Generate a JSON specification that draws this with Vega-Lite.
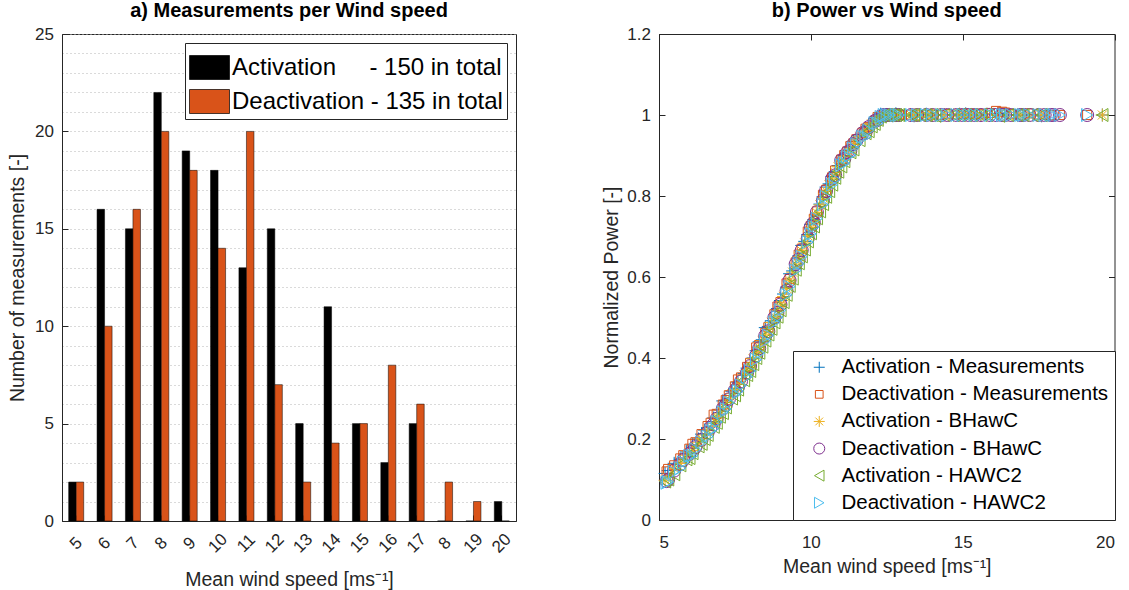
{
  "$schema": "https://vega.github.io/schema/vega-lite/v6.json",
  "padding": {"left": 7, "top": 0, "right": 0, "bottom": 0},
  "bounds": "flush",
  "spacing": 143,
  "config": {
    "font": "Liberation Sans",
    "view": {"stroke": "#262626", "strokeWidth": 1},
    "axis": {
      "domainColor": "#262626", "tickColor": "#262626", "labelColor": "#262626", "titleColor": "#262626",
      "labelFontSize": 17, "titleFontSize": 19.5, "titleFontWeight": "normal",
      "grid": false, "tickSize": -6, "labelPadding": 14.5
    },
    "title": {"fontSize": 20, "fontWeight": "bold", "color": "#000000", "offset": 4},
    "legend": {"labelColor": "#000000", "strokeColor": "#262626", "fillColor": "#ffffff", "labelLimit": 500}
  },
  "resolve": {
    "scale": {"color": "independent", "shape": "independent"},
    "legend": {"color": "independent", "shape": "independent"}
  },
  "hconcat": [
    {
      "width": 454, "height": 487,
      "title": {"text": "a) Measurements per Wind speed"},
      "data": {"values": [
        {"ws": 5, "type": "Activation", "n": 2}, {"ws": 6, "type": "Activation", "n": 16},
        {"ws": 7, "type": "Activation", "n": 15}, {"ws": 8, "type": "Activation", "n": 22},
        {"ws": 9, "type": "Activation", "n": 19}, {"ws": 10, "type": "Activation", "n": 18},
        {"ws": 11, "type": "Activation", "n": 13}, {"ws": 12, "type": "Activation", "n": 15},
        {"ws": 13, "type": "Activation", "n": 5}, {"ws": 14, "type": "Activation", "n": 11},
        {"ws": 15, "type": "Activation", "n": 5}, {"ws": 16, "type": "Activation", "n": 3},
        {"ws": 17, "type": "Activation", "n": 5}, {"ws": 18, "type": "Activation", "n": 0},
        {"ws": 19, "type": "Activation", "n": 0}, {"ws": 20, "type": "Activation", "n": 1},
        {"ws": 5, "type": "Deactivation", "n": 2}, {"ws": 6, "type": "Deactivation", "n": 10},
        {"ws": 7, "type": "Deactivation", "n": 16}, {"ws": 8, "type": "Deactivation", "n": 20},
        {"ws": 9, "type": "Deactivation", "n": 18}, {"ws": 10, "type": "Deactivation", "n": 14},
        {"ws": 11, "type": "Deactivation", "n": 20}, {"ws": 12, "type": "Deactivation", "n": 7},
        {"ws": 13, "type": "Deactivation", "n": 2}, {"ws": 14, "type": "Deactivation", "n": 4},
        {"ws": 15, "type": "Deactivation", "n": 5}, {"ws": 16, "type": "Deactivation", "n": 8},
        {"ws": 17, "type": "Deactivation", "n": 6}, {"ws": 18, "type": "Deactivation", "n": 2},
        {"ws": 19, "type": "Deactivation", "n": 1}, {"ws": 20, "type": "Deactivation", "n": 0}
      ]},
      "mark": {"type": "bar", "stroke": "#000000", "strokeWidth": 0.5},
      "encoding": {
        "x": {
          "field": "ws", "type": "ordinal",
          "scale": {"paddingInner": 0.47, "paddingOuter": 0.235},
          "axis": {
            "title": "Mean wind speed [ms⁻¹]",
            "labelAngle": -45, "labelAlign": "center", "labelBaseline": "middle",
            "labelPadding": 28,
            "labelExpr": "datum.value == 18 ? '8' : datum.label",
            "titlePadding": 15
          }
        },
        "xOffset": {"field": "type", "scale": {"paddingInner": 0, "paddingOuter": 0}},
        "y": {
          "field": "n", "type": "quantitative",
          "scale": {"domain": [0, 25], "nice": false},
          "axis": {
            "title": "Number of measurements [-]",
            "values": [0,1,2,3,4,5,6,7,8,9,10,11,12,13,14,15,16,17,18,19,20,21,22,23,24,25],
            "grid": true, "gridDash": [1, 3], "gridColor": "#b5b5b5",
            "labelExpr": "datum.value % 5 == 0 ? datum.label : ''",
            "tickOpacity": {"condition": {"test": "datum.value % 5 == 0", "value": 1}, "value": 0},
            "titlePadding": 7
          }
        },
        "color": {
          "field": "type", "type": "nominal",
          "scale": {"domain": ["Activation", "Deactivation"], "range": ["#000000", "#D95319"]},
          "legend": {
            "title": null, "orient": "top-right", "offset": 9,
            "symbolType": "M-1,-0.6H1V0.6H-1Z", "symbolSize": 1600,
            "symbolStrokeColor": "#000000", "symbolStrokeWidth": 0.7,
            "labelFontSize": 24, "labelOffset": 2, "rowPadding": 0, "padding": 4,
            "labelExpr": "datum.value == 'Activation' ? 'Activation\u00a0\u00a0\u00a0\u00a0\u00a0- 150 in total' : 'Deactivation - 135 in total'"
          }
        }
      }
    },
    {
      "width": 455.5, "height": 486,
      "title": {"text": "b) Power vs Wind speed"},
      "data": {"values": [
        {"s":"AM","x":5.2,"y":0.115},{"s":"AM","x":5.3,"y":0.122},{"s":"AM","x":5.5,"y":0.14},{"s":"AM","x":5.7,"y":0.15},{"s":"AM","x":5.9,"y":0.168},
        {"s":"AM","x":6.0,"y":0.157},{"s":"AM","x":6.1,"y":0.185},{"s":"AM","x":6.3,"y":0.2},{"s":"AM","x":6.4,"y":0.212},{"s":"AM","x":6.5,"y":0.222},{"s":"AM","x":6.6,"y":0.228},
        {"s":"AM","x":6.8,"y":0.252},{"s":"AM","x":6.9,"y":0.242},{"s":"AM","x":7.0,"y":0.272},{"s":"AM","x":7.1,"y":0.294},{"s":"AM","x":7.2,"y":0.295},{"s":"AM","x":7.4,"y":0.318},
        {"s":"AM","x":7.5,"y":0.325},{"s":"AM","x":7.6,"y":0.34},{"s":"AM","x":7.8,"y":0.362},{"s":"AM","x":7.9,"y":0.375},{"s":"AM","x":8.0,"y":0.368},{"s":"AM","x":8.1,"y":0.4},
        {"s":"AM","x":8.2,"y":0.418},{"s":"AM","x":8.3,"y":0.44},{"s":"AM","x":8.4,"y":0.445},{"s":"AM","x":8.5,"y":0.475},{"s":"AM","x":8.6,"y":0.478},{"s":"AM","x":8.7,"y":0.492},
        {"s":"AM","x":8.8,"y":0.492},{"s":"AM","x":8.9,"y":0.522},{"s":"AM","x":9.0,"y":0.542},{"s":"AM","x":9.1,"y":0.558},{"s":"AM","x":9.2,"y":0.575},{"s":"AM","x":9.3,"y":0.608},{"s":"AM","x":9.4,"y":0.615},
        {"s":"AM","x":9.5,"y":0.62},{"s":"AM","x":9.6,"y":0.652},{"s":"AM","x":9.7,"y":0.678},{"s":"AM","x":9.8,"y":0.688},{"s":"AM","x":9.9,"y":0.705},{"s":"AM","x":10.0,"y":0.73},{"s":"AM","x":10.1,"y":0.742},
        {"s":"AM","x":10.2,"y":0.752},{"s":"AM","x":10.3,"y":0.78},{"s":"AM","x":10.4,"y":0.798},{"s":"AM","x":10.5,"y":0.822},{"s":"AM","x":10.6,"y":0.83},{"s":"AM","x":10.7,"y":0.848},{"s":"AM","x":10.8,"y":0.86},
        {"s":"AM","x":10.9,"y":0.875},{"s":"AM","x":11.0,"y":0.879},{"s":"AM","x":11.1,"y":0.9},{"s":"AM","x":11.3,"y":0.92},{"s":"AM","x":11.4,"y":0.935},{"s":"AM","x":11.6,"y":0.948},
        {"s":"AM","x":11.8,"y":0.963},{"s":"AM","x":11.9,"y":0.974},{"s":"AM","x":12.0,"y":0.978},{"s":"AM","x":12.1,"y":0.991},{"s":"AM","x":12.2,"y":0.992},{"s":"AM","x":12.3,"y":1.002},{"s":"AM","x":12.4,"y":0.999},
        {"s":"AM","x":12.5,"y":1.001},{"s":"AM","x":12.6,"y":1.0},{"s":"AM","x":12.7,"y":0.998},{"s":"AM","x":12.8,"y":1.003},{"s":"AM","x":12.9,"y":1.001},{"s":"AM","x":13.3,"y":1.0},{"s":"AM","x":13.4,"y":0.998},
        {"s":"AM","x":13.6,"y":1.001},{"s":"AM","x":13.8,"y":1.002},{"s":"AM","x":14.0,"y":0.999},{"s":"AM","x":14.1,"y":0.999},{"s":"AM","x":14.4,"y":1.001},{"s":"AM","x":14.7,"y":1.0},{"s":"AM","x":14.9,"y":1.002},
        {"s":"AM","x":15.1,"y":1.003},{"s":"AM","x":15.3,"y":1.0},{"s":"AM","x":15.6,"y":0.999},{"s":"AM","x":15.8,"y":1.002},{"s":"AM","x":16.2,"y":1.004},{"s":"AM","x":16.5,"y":1.001},{"s":"AM","x":16.8,"y":1.0},
        {"s":"AM","x":17.0,"y":0.999},{"s":"AM","x":17.3,"y":1.001},{"s":"AM","x":17.6,"y":0.998},{"s":"AM","x":19.6,"y":1.0},

        {"s":"DM","x":5.25,"y":0.12},{"s":"DM","x":5.3,"y":0.126},{"s":"DM","x":5.5,"y":0.135},{"s":"DM","x":5.7,"y":0.152},{"s":"DM","x":5.8,"y":0.16},{"s":"DM","x":6.0,"y":0.176},
        {"s":"DM","x":6.1,"y":0.188},{"s":"DM","x":6.2,"y":0.192},{"s":"DM","x":6.4,"y":0.212},{"s":"DM","x":6.6,"y":0.232},{"s":"DM","x":6.7,"y":0.24},{"s":"DM","x":6.8,"y":0.26},{"s":"DM","x":6.9,"y":0.262},
        {"s":"DM","x":7.1,"y":0.285},{"s":"DM","x":7.2,"y":0.296},{"s":"DM","x":7.3,"y":0.308},{"s":"DM","x":7.5,"y":0.33},{"s":"DM","x":7.6,"y":0.347},{"s":"DM","x":7.7,"y":0.352},{"s":"DM","x":7.9,"y":0.378},
        {"s":"DM","x":8.0,"y":0.388},{"s":"DM","x":8.2,"y":0.426},{"s":"DM","x":8.3,"y":0.432},{"s":"DM","x":8.5,"y":0.462},{"s":"DM","x":8.6,"y":0.476},{"s":"DM","x":8.8,"y":0.508},{"s":"DM","x":8.9,"y":0.527},
        {"s":"DM","x":9.0,"y":0.538},{"s":"DM","x":9.2,"y":0.584},{"s":"DM","x":9.3,"y":0.595},{"s":"DM","x":9.5,"y":0.636},{"s":"DM","x":9.6,"y":0.655},{"s":"DM","x":9.7,"y":0.67},{"s":"DM","x":9.9,"y":0.712},
        {"s":"DM","x":10.0,"y":0.726},{"s":"DM","x":10.1,"y":0.744},{"s":"DM","x":10.2,"y":0.762},{"s":"DM","x":10.4,"y":0.803},{"s":"DM","x":10.5,"y":0.815},{"s":"DM","x":10.7,"y":0.846},{"s":"DM","x":10.8,"y":0.863},
        {"s":"DM","x":11.0,"y":0.89},{"s":"DM","x":11.1,"y":0.901},{"s":"DM","x":11.2,"y":0.91},{"s":"DM","x":11.3,"y":0.923},{"s":"DM","x":11.4,"y":0.93},{"s":"DM","x":11.5,"y":0.94},{"s":"DM","x":11.7,"y":0.956},
        {"s":"DM","x":11.8,"y":0.966},{"s":"DM","x":11.9,"y":0.97},{"s":"DM","x":12.1,"y":0.985},{"s":"DM","x":12.2,"y":0.995},{"s":"DM","x":12.3,"y":0.997},{"s":"DM","x":12.4,"y":1.001},{"s":"DM","x":12.5,"y":1.0},
        {"s":"DM","x":12.6,"y":0.999},{"s":"DM","x":12.8,"y":1.002},{"s":"DM","x":12.9,"y":1.0},{"s":"DM","x":13.3,"y":1.001},{"s":"DM","x":13.5,"y":0.999},{"s":"DM","x":13.8,"y":1.0},{"s":"DM","x":14.0,"y":1.001},
        {"s":"DM","x":14.3,"y":1.0},{"s":"DM","x":14.5,"y":1.002},{"s":"DM","x":14.8,"y":1.001},{"s":"DM","x":15.0,"y":1.003},{"s":"DM","x":15.2,"y":1.004},{"s":"DM","x":15.4,"y":1.002},{"s":"DM","x":15.6,"y":1.003},
        {"s":"DM","x":15.9,"y":1.005},{"s":"DM","x":16.1,"y":1.01},{"s":"DM","x":16.3,"y":1.008},{"s":"DM","x":16.4,"y":1.006},{"s":"DM","x":16.6,"y":1.002},{"s":"DM","x":16.9,"y":1.001},{"s":"DM","x":17.0,"y":1.0},
        {"s":"DM","x":17.2,"y":1.004},{"s":"DM","x":17.5,"y":1.001},{"s":"DM","x":17.7,"y":1.0},{"s":"DM","x":17.9,"y":0.999},{"s":"DM","x":18.0,"y":1.0},{"s":"DM","x":18.2,"y":1.0},{"s":"DM","x":19.1,"y":1.0},

        {"s":"AB","x":5.2,"y":0.098},{"s":"AB","x":5.3,"y":0.105},{"s":"AB","x":5.5,"y":0.127},{"s":"AB","x":5.7,"y":0.14},{"s":"AB","x":5.9,"y":0.16},
        {"s":"AB","x":6.0,"y":0.166},{"s":"AB","x":6.1,"y":0.172},{"s":"AB","x":6.3,"y":0.192},{"s":"AB","x":6.4,"y":0.201},{"s":"AB","x":6.5,"y":0.21},{"s":"AB","x":6.6,"y":0.222},
        {"s":"AB","x":6.8,"y":0.238},{"s":"AB","x":6.9,"y":0.254},{"s":"AB","x":7.0,"y":0.262},{"s":"AB","x":7.1,"y":0.278},{"s":"AB","x":7.2,"y":0.29},{"s":"AB","x":7.4,"y":0.312},
        {"s":"AB","x":7.5,"y":0.322},{"s":"AB","x":7.6,"y":0.335},{"s":"AB","x":7.8,"y":0.358},{"s":"AB","x":7.9,"y":0.37},{"s":"AB","x":8.0,"y":0.382},{"s":"AB","x":8.1,"y":0.398},
        {"s":"AB","x":8.2,"y":0.412},{"s":"AB","x":8.3,"y":0.427},{"s":"AB","x":8.4,"y":0.442},{"s":"AB","x":8.5,"y":0.457},{"s":"AB","x":8.6,"y":0.472},{"s":"AB","x":8.7,"y":0.488},
        {"s":"AB","x":8.8,"y":0.502},{"s":"AB","x":8.9,"y":0.518},{"s":"AB","x":9.0,"y":0.533},{"s":"AB","x":9.1,"y":0.552},{"s":"AB","x":9.2,"y":0.572},{"s":"AB","x":9.3,"y":0.592},{"s":"AB","x":9.4,"y":0.612},
        {"s":"AB","x":9.5,"y":0.632},{"s":"AB","x":9.6,"y":0.65},{"s":"AB","x":9.7,"y":0.665},{"s":"AB","x":9.8,"y":0.684},{"s":"AB","x":9.9,"y":0.702},{"s":"AB","x":10.0,"y":0.722},{"s":"AB","x":10.1,"y":0.74},
        {"s":"AB","x":10.2,"y":0.759},{"s":"AB","x":10.3,"y":0.778},{"s":"AB","x":10.4,"y":0.795},{"s":"AB","x":10.5,"y":0.812},{"s":"AB","x":10.6,"y":0.828},{"s":"AB","x":10.7,"y":0.842},{"s":"AB","x":10.8,"y":0.858},
        {"s":"AB","x":10.9,"y":0.872},{"s":"AB","x":11.0,"y":0.887},{"s":"AB","x":11.1,"y":0.898},{"s":"AB","x":11.3,"y":0.918},{"s":"AB","x":11.4,"y":0.927},{"s":"AB","x":11.6,"y":0.946},
        {"s":"AB","x":11.8,"y":0.962},{"s":"AB","x":11.9,"y":0.97},{"s":"AB","x":12.0,"y":0.978},{"s":"AB","x":12.1,"y":0.985},{"s":"AB","x":12.2,"y":0.992},{"s":"AB","x":12.3,"y":0.998},{"s":"AB","x":12.4,"y":1.0},
        {"s":"AB","x":12.5,"y":1.0},{"s":"AB","x":12.6,"y":1.0},{"s":"AB","x":12.7,"y":1.0},{"s":"AB","x":12.8,"y":1.0},{"s":"AB","x":12.9,"y":1.0},{"s":"AB","x":13.3,"y":1.0},{"s":"AB","x":13.4,"y":1.0},
        {"s":"AB","x":13.6,"y":1.0},{"s":"AB","x":13.8,"y":1.0},{"s":"AB","x":14.0,"y":1.0},{"s":"AB","x":14.1,"y":1.0},{"s":"AB","x":14.4,"y":1.0},{"s":"AB","x":14.7,"y":1.0},{"s":"AB","x":14.9,"y":1.0},
        {"s":"AB","x":15.1,"y":1.0},{"s":"AB","x":15.3,"y":1.0},{"s":"AB","x":15.6,"y":1.0},{"s":"AB","x":15.8,"y":1.0},{"s":"AB","x":16.2,"y":1.0},{"s":"AB","x":16.5,"y":1.0},{"s":"AB","x":16.8,"y":1.0},
        {"s":"AB","x":17.0,"y":1.0},{"s":"AB","x":17.3,"y":1.0},{"s":"AB","x":17.6,"y":1.0},{"s":"AB","x":19.6,"y":1.0},

        {"s":"DB","x":5.25,"y":0.096},{"s":"DB","x":5.3,"y":0.1},{"s":"DB","x":5.5,"y":0.122},{"s":"DB","x":5.7,"y":0.138},{"s":"DB","x":5.8,"y":0.148},{"s":"DB","x":6.0,"y":0.163},
        {"s":"DB","x":6.1,"y":0.169},{"s":"DB","x":6.2,"y":0.18},{"s":"DB","x":6.4,"y":0.198},{"s":"DB","x":6.6,"y":0.216},{"s":"DB","x":6.7,"y":0.228},{"s":"DB","x":6.8,"y":0.236},{"s":"DB","x":6.9,"y":0.25},
        {"s":"DB","x":7.1,"y":0.275},{"s":"DB","x":7.2,"y":0.284},{"s":"DB","x":7.3,"y":0.298},{"s":"DB","x":7.5,"y":0.32},{"s":"DB","x":7.6,"y":0.328},{"s":"DB","x":7.7,"y":0.342},{"s":"DB","x":7.9,"y":0.364},
        {"s":"DB","x":8.0,"y":0.38},{"s":"DB","x":8.2,"y":0.406},{"s":"DB","x":8.3,"y":0.424},{"s":"DB","x":8.5,"y":0.455},{"s":"DB","x":8.6,"y":0.466},{"s":"DB","x":8.8,"y":0.5},{"s":"DB","x":8.9,"y":0.511},
        {"s":"DB","x":9.0,"y":0.532},{"s":"DB","x":9.2,"y":0.566},{"s":"DB","x":9.3,"y":0.592},{"s":"DB","x":9.5,"y":0.632},{"s":"DB","x":9.6,"y":0.643},{"s":"DB","x":9.7,"y":0.666},{"s":"DB","x":9.9,"y":0.696},
        {"s":"DB","x":10.0,"y":0.724},{"s":"DB","x":10.1,"y":0.734},{"s":"DB","x":10.2,"y":0.76},{"s":"DB","x":10.4,"y":0.789},{"s":"DB","x":10.5,"y":0.812},{"s":"DB","x":10.7,"y":0.843},{"s":"DB","x":10.8,"y":0.851},
        {"s":"DB","x":11.0,"y":0.888},{"s":"DB","x":11.1,"y":0.891},{"s":"DB","x":11.2,"y":0.908},{"s":"DB","x":11.3,"y":0.911},{"s":"DB","x":11.4,"y":0.928},{"s":"DB","x":11.5,"y":0.937},{"s":"DB","x":11.7,"y":0.955},
        {"s":"DB","x":11.8,"y":0.956},{"s":"DB","x":11.9,"y":0.97},{"s":"DB","x":12.1,"y":0.985},{"s":"DB","x":12.2,"y":0.988},{"s":"DB","x":12.3,"y":0.997},{"s":"DB","x":12.4,"y":1.0},{"s":"DB","x":12.5,"y":1.0},
        {"s":"DB","x":12.6,"y":1.0},{"s":"DB","x":12.8,"y":1.0},{"s":"DB","x":12.9,"y":1.0},{"s":"DB","x":13.3,"y":1.0},{"s":"DB","x":13.5,"y":1.0},{"s":"DB","x":13.8,"y":1.0},{"s":"DB","x":14.0,"y":1.0},
        {"s":"DB","x":14.3,"y":1.0},{"s":"DB","x":14.5,"y":1.0},{"s":"DB","x":14.8,"y":1.0},{"s":"DB","x":15.0,"y":1.0},{"s":"DB","x":15.2,"y":1.0},{"s":"DB","x":15.4,"y":1.0},{"s":"DB","x":15.6,"y":1.0},
        {"s":"DB","x":15.9,"y":1.0},{"s":"DB","x":16.1,"y":1.0},{"s":"DB","x":16.3,"y":1.0},{"s":"DB","x":16.4,"y":1.0},{"s":"DB","x":16.6,"y":1.0},{"s":"DB","x":16.9,"y":1.0},{"s":"DB","x":17.0,"y":1.0},
        {"s":"DB","x":17.2,"y":1.0},{"s":"DB","x":17.5,"y":1.0},{"s":"DB","x":17.7,"y":1.0},{"s":"DB","x":17.9,"y":1.0},{"s":"DB","x":18.0,"y":1.0},{"s":"DB","x":18.2,"y":1.0},{"s":"DB","x":19.1,"y":1.0},

        {"s":"AH","x":5.2,"y":0.095},{"s":"AH","x":5.3,"y":0.1},{"s":"AH","x":5.5,"y":0.113},{"s":"AH","x":5.7,"y":0.135},{"s":"AH","x":5.9,"y":0.15},
        {"s":"AH","x":6.0,"y":0.153},{"s":"AH","x":6.1,"y":0.165},{"s":"AH","x":6.3,"y":0.182},{"s":"AH","x":6.4,"y":0.188},{"s":"AH","x":6.5,"y":0.2},{"s":"AH","x":6.6,"y":0.21},
        {"s":"AH","x":6.8,"y":0.23},{"s":"AH","x":6.9,"y":0.24},{"s":"AH","x":7.0,"y":0.255},{"s":"AH","x":7.1,"y":0.264},{"s":"AH","x":7.2,"y":0.278},{"s":"AH","x":7.4,"y":0.3},
        {"s":"AH","x":7.5,"y":0.308},{"s":"AH","x":7.6,"y":0.322},{"s":"AH","x":7.8,"y":0.345},{"s":"AH","x":7.9,"y":0.358},{"s":"AH","x":8.0,"y":0.368},{"s":"AH","x":8.1,"y":0.385},
        {"s":"AH","x":8.2,"y":0.4},{"s":"AH","x":8.3,"y":0.413},{"s":"AH","x":8.4,"y":0.428},{"s":"AH","x":8.5,"y":0.443},{"s":"AH","x":8.6,"y":0.458},{"s":"AH","x":8.7,"y":0.472},
        {"s":"AH","x":8.8,"y":0.488},{"s":"AH","x":8.9,"y":0.502},{"s":"AH","x":9.0,"y":0.518},{"s":"AH","x":9.1,"y":0.538},{"s":"AH","x":9.2,"y":0.556},{"s":"AH","x":9.3,"y":0.578},{"s":"AH","x":9.4,"y":0.596},
        {"s":"AH","x":9.5,"y":0.618},{"s":"AH","x":9.6,"y":0.634},{"s":"AH","x":9.7,"y":0.651},{"s":"AH","x":9.8,"y":0.668},{"s":"AH","x":9.9,"y":0.688},{"s":"AH","x":10.0,"y":0.708},{"s":"AH","x":10.1,"y":0.725},
        {"s":"AH","x":10.2,"y":0.745},{"s":"AH","x":10.3,"y":0.762},{"s":"AH","x":10.4,"y":0.78},{"s":"AH","x":10.5,"y":0.798},{"s":"AH","x":10.6,"y":0.812},{"s":"AH","x":10.7,"y":0.828},{"s":"AH","x":10.8,"y":0.845},
        {"s":"AH","x":10.9,"y":0.86},{"s":"AH","x":11.0,"y":0.873},{"s":"AH","x":11.1,"y":0.886},{"s":"AH","x":11.3,"y":0.908},{"s":"AH","x":11.4,"y":0.915},{"s":"AH","x":11.6,"y":0.938},
        {"s":"AH","x":11.8,"y":0.955},{"s":"AH","x":11.9,"y":0.96},{"s":"AH","x":12.0,"y":0.972},{"s":"AH","x":12.1,"y":0.978},{"s":"AH","x":12.2,"y":0.988},{"s":"AH","x":12.3,"y":0.996},{"s":"AH","x":12.4,"y":1.0},
        {"s":"AH","x":12.5,"y":1.0},{"s":"AH","x":12.6,"y":1.0},{"s":"AH","x":12.7,"y":1.0},{"s":"AH","x":12.8,"y":1.0},{"s":"AH","x":12.9,"y":1.0},{"s":"AH","x":13.3,"y":1.0},{"s":"AH","x":13.4,"y":1.0},
        {"s":"AH","x":13.6,"y":1.0},{"s":"AH","x":13.8,"y":1.0},{"s":"AH","x":14.0,"y":1.0},{"s":"AH","x":14.1,"y":0.998},{"s":"AH","x":14.4,"y":1.0},{"s":"AH","x":14.7,"y":1.0},{"s":"AH","x":14.9,"y":1.0},
        {"s":"AH","x":15.1,"y":1.0},{"s":"AH","x":15.3,"y":1.0},{"s":"AH","x":15.6,"y":1.0},{"s":"AH","x":15.8,"y":1.0},{"s":"AH","x":16.2,"y":0.998},{"s":"AH","x":16.5,"y":1.0},{"s":"AH","x":16.8,"y":1.0},
        {"s":"AH","x":17.0,"y":1.0},{"s":"AH","x":17.3,"y":1.0},{"s":"AH","x":17.6,"y":1.0},{"s":"AH","x":19.6,"y":1.0},

        {"s":"DH","x":5.25,"y":0.092},{"s":"DH","x":5.3,"y":0.094},{"s":"DH","x":5.5,"y":0.118},{"s":"DH","x":5.7,"y":0.128},{"s":"DH","x":5.8,"y":0.142},{"s":"DH","x":6.0,"y":0.158},
        {"s":"DH","x":6.1,"y":0.159},{"s":"DH","x":6.2,"y":0.174},{"s":"DH","x":6.4,"y":0.192},{"s":"DH","x":6.6,"y":0.206},{"s":"DH","x":6.7,"y":0.22},{"s":"DH","x":6.8,"y":0.226},{"s":"DH","x":6.9,"y":0.242},
        {"s":"DH","x":7.1,"y":0.266},{"s":"DH","x":7.2,"y":0.274},{"s":"DH","x":7.3,"y":0.29},{"s":"DH","x":7.5,"y":0.31},{"s":"DH","x":7.6,"y":0.318},{"s":"DH","x":7.7,"y":0.332},{"s":"DH","x":7.9,"y":0.354},
        {"s":"DH","x":8.0,"y":0.368},{"s":"DH","x":8.2,"y":0.396},{"s":"DH","x":8.3,"y":0.412},{"s":"DH","x":8.5,"y":0.442},{"s":"DH","x":8.6,"y":0.456},{"s":"DH","x":8.8,"y":0.488},{"s":"DH","x":8.9,"y":0.501},
        {"s":"DH","x":9.0,"y":0.518},{"s":"DH","x":9.2,"y":0.556},{"s":"DH","x":9.3,"y":0.576},{"s":"DH","x":9.5,"y":0.616},{"s":"DH","x":9.6,"y":0.633},{"s":"DH","x":9.7,"y":0.65},{"s":"DH","x":9.9,"y":0.686},
        {"s":"DH","x":10.0,"y":0.706},{"s":"DH","x":10.1,"y":0.724},{"s":"DH","x":10.2,"y":0.744},{"s":"DH","x":10.4,"y":0.779},{"s":"DH","x":10.5,"y":0.798},{"s":"DH","x":10.7,"y":0.828},{"s":"DH","x":10.8,"y":0.841},
        {"s":"DH","x":11.0,"y":0.876},{"s":"DH","x":11.1,"y":0.881},{"s":"DH","x":11.2,"y":0.897},{"s":"DH","x":11.3,"y":0.901},{"s":"DH","x":11.4,"y":0.918},{"s":"DH","x":11.5,"y":0.928},{"s":"DH","x":11.7,"y":0.946},
        {"s":"DH","x":11.8,"y":0.946},{"s":"DH","x":11.9,"y":0.962},{"s":"DH","x":12.1,"y":0.98},{"s":"DH","x":12.2,"y":0.98},{"s":"DH","x":12.3,"y":0.995},{"s":"DH","x":12.4,"y":1.0},{"s":"DH","x":12.5,"y":1.0},
        {"s":"DH","x":12.6,"y":1.0},{"s":"DH","x":12.8,"y":1.0},{"s":"DH","x":12.9,"y":1.0},{"s":"DH","x":13.3,"y":1.0},{"s":"DH","x":13.5,"y":1.0},{"s":"DH","x":13.8,"y":1.0},{"s":"DH","x":14.0,"y":1.0},
        {"s":"DH","x":14.3,"y":1.0},{"s":"DH","x":14.5,"y":1.0},{"s":"DH","x":14.8,"y":1.0},{"s":"DH","x":15.0,"y":1.0},{"s":"DH","x":15.2,"y":1.0},{"s":"DH","x":15.4,"y":1.0},{"s":"DH","x":15.6,"y":1.0},
        {"s":"DH","x":15.9,"y":1.0},{"s":"DH","x":16.1,"y":1.0},{"s":"DH","x":16.3,"y":1.0},{"s":"DH","x":16.4,"y":1.0},{"s":"DH","x":16.6,"y":1.0},{"s":"DH","x":16.9,"y":1.0},{"s":"DH","x":17.0,"y":1.0},
        {"s":"DH","x":17.2,"y":1.0},{"s":"DH","x":17.5,"y":1.0},{"s":"DH","x":17.7,"y":1.0},{"s":"DH","x":17.9,"y":1.0},{"s":"DH","x":18.0,"y":1.0},{"s":"DH","x":18.2,"y":1.0},{"s":"DH","x":19.1,"y":1.0}
      ]},
      "layer": [
        {
          "mark": {"type": "point", "filled": false, "size": 169, "strokeWidth": 1, "opacity": 1},
          "encoding": {
            "x": {
              "field": "x", "type": "quantitative",
              "scale": {"domain": [5, 20], "nice": false},
              "axis": {"values": [5, 10, 15, 20], "title": "Mean wind speed [ms⁻¹]", "titlePadding": 7, "labelPadding": 20}
            },
            "y": {
              "field": "y", "type": "quantitative",
              "scale": {"domain": [0, 1.2], "nice": false},
              "axis": {"values": [0, 0.2, 0.4, 0.6, 0.8, 1, 1.2], "format": "~g", "title": "Normalized Power [-]", "titlePadding": 5}
            },
            "color": {
              "field": "s", "type": "nominal",
              "scale": {"domain": ["AM", "DM", "AB", "DB", "AH", "DH"], "range": ["#0072BD", "#D95319", "#EDB120", "#7E2F8E", "#77AC30", "#4DBEEE"]},
              "legend": {
                "title": null, "orient": "bottom-right", "offset": 0,
                "labelFontSize": 20.5, "labelOffset": 12, "rowPadding": 6.1, "padding": 6, "symbolOffset": 10,
                "symbolSize": 121, "symbolStrokeWidth": 1,
                "labelExpr": "{'AM': 'Activation - Measurements', 'DM': 'Deactivation - Measurements', 'AB': 'Activation - BHawC', 'DB': 'Deactivation - BHawC', 'AH': 'Activation - HAWC2', 'DH': 'Deactivation - HAWC2'}[datum.value]"
              }
            },
            "shape": {
              "field": "s", "type": "nominal",
              "scale": {"domain": ["AM", "DM", "AB", "DB", "AH", "DH"], "range": ["M-1,0L1,0M0,-1L0,1", "M-0.7,-0.7H0.7V0.7H-0.7Z", "M-1,0L1,0M0,-1L0,1M-0.7,-0.7L0.7,0.7M-0.7,0.7L0.7,-0.7", "circle", "triangle-left", "triangle-right"]},
              "legend": {
                "title": null, "orient": "bottom-right", "offset": 0,
                "labelFontSize": 20.5, "labelOffset": 12, "rowPadding": 6.1, "padding": 6, "symbolOffset": 10,
                "symbolSize": 121, "symbolStrokeWidth": 1,
                "labelExpr": "{'AM': 'Activation - Measurements', 'DM': 'Deactivation - Measurements', 'AB': 'Activation - BHawC', 'DB': 'Deactivation - BHawC', 'AH': 'Activation - HAWC2', 'DH': 'Deactivation - HAWC2'}[datum.value]"
              }
            }
          }
        },
        {
          "mark": {"type": "point", "opacity": 0},
          "encoding": {
            "x": {"field": "x", "type": "quantitative", "axis": {"orient": "top", "labels": false, "title": null, "domain": false, "values": [5, 10, 15, 20]}},
            "y": {"field": "y", "type": "quantitative", "axis": {"orient": "right", "labels": false, "title": null, "domain": false, "values": [0, 0.2, 0.4, 0.6, 0.8, 1, 1.2]}}
          }
        }
      ],
      "resolve": {"axis": {"x": "independent", "y": "independent"}}
    }
  ]
}
